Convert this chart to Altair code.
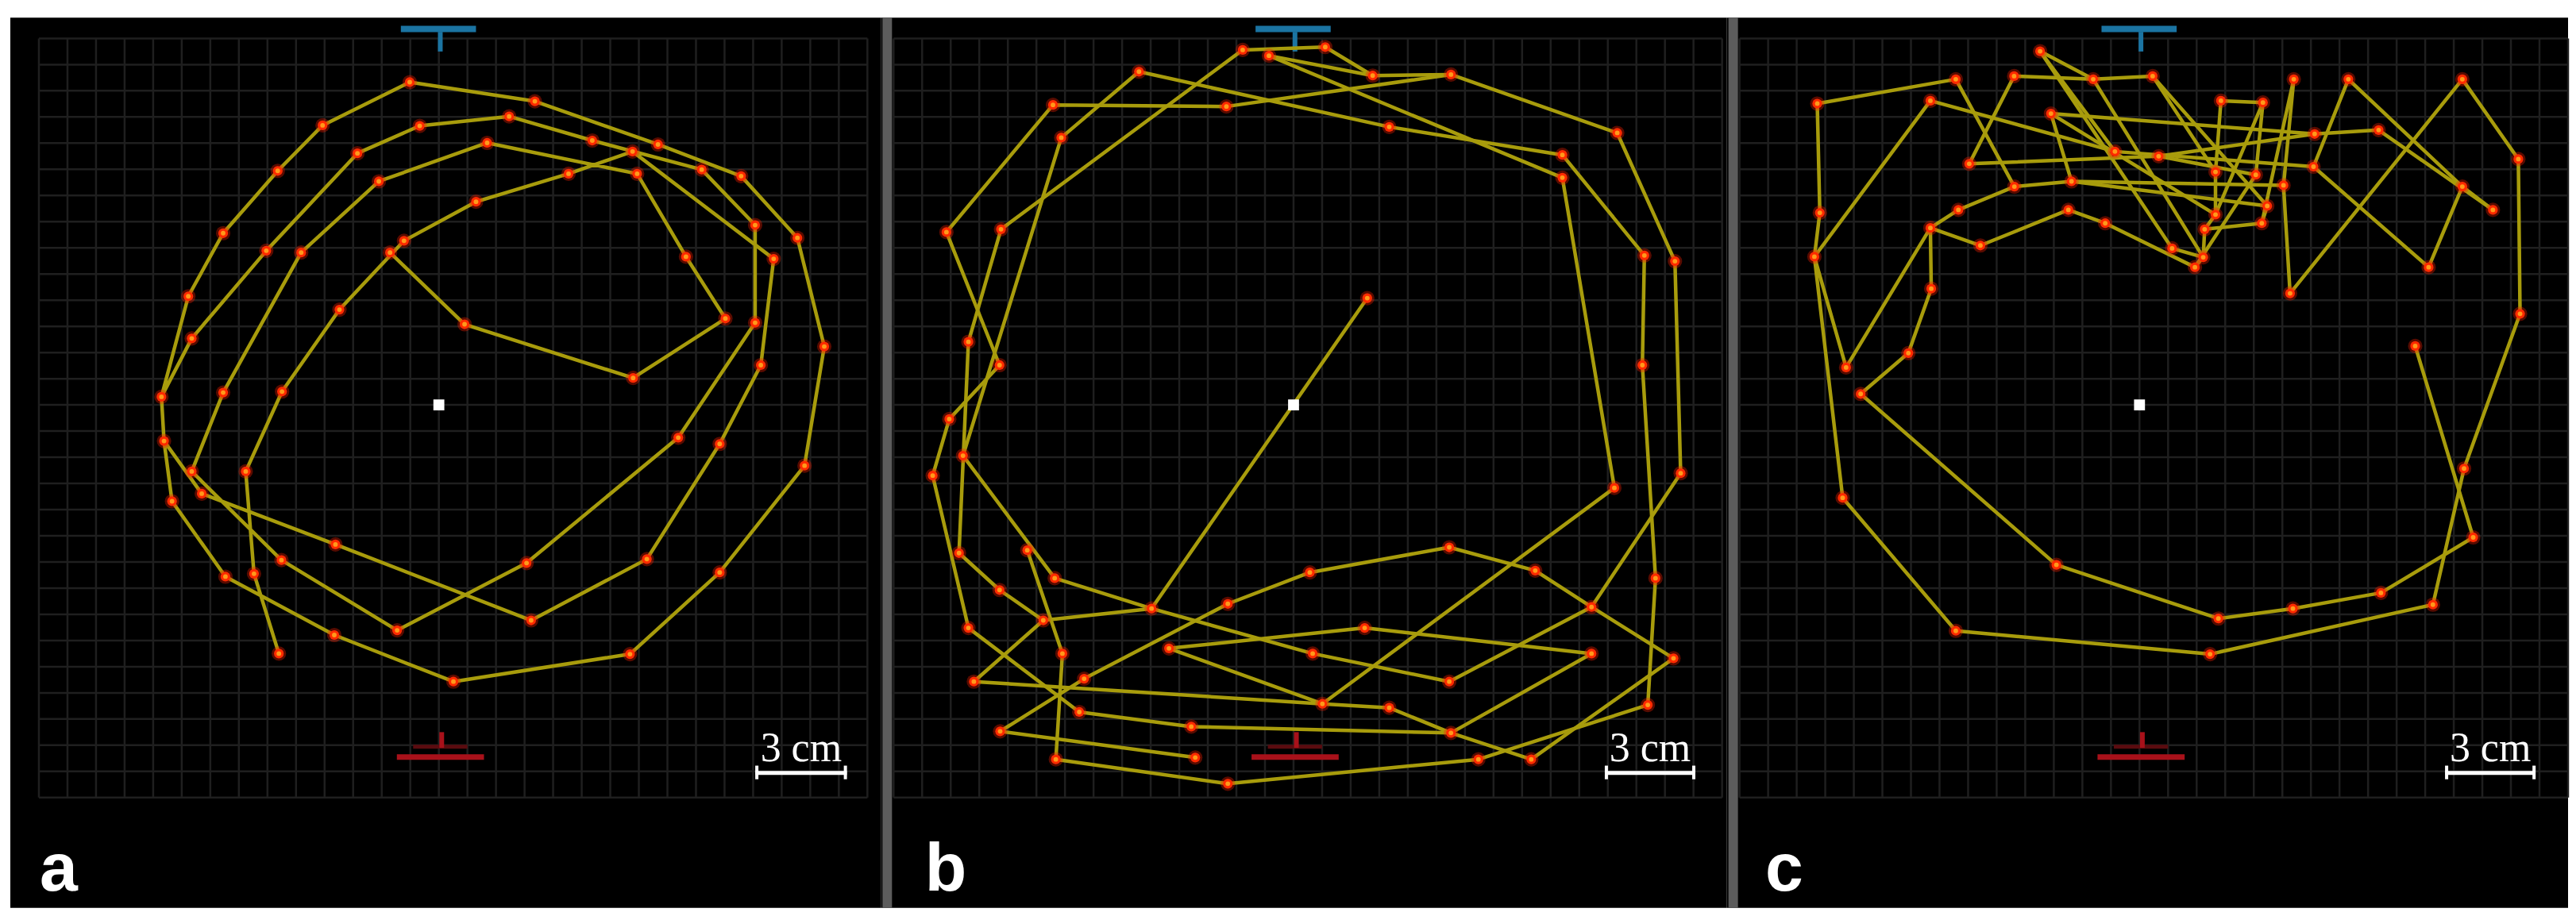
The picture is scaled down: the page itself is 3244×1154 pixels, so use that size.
import altair as alt
import pandas as pd

# ---------------------------------------------------------------------------
# Data: positions in grid-cell units, origin = white centre square, y upward
# ---------------------------------------------------------------------------
A_X = [-1.02, 3.36, 7.67, 2.46, -0.67, -4.07, 5.37, 6.78, 1.69, -2.85, 9.20, 10.58, 6.94, 4.54, -5.64,
       -2.10, 1.30, 11.07, -7.55, 12.55, -1.22, -1.71, -6.04, -4.82, 8.65, 11.72, -8.77, -3.48, 10.03,
       11.07, 0.90, -8.65, 13.49, 11.27, 6.80, -7.55, -5.49, -9.71, -9.62, 8.38, 9.83, 12.80, -8.65,
       -6.76, -8.30, -9.34, -3.62, 3.07, 7.28, -5.51, 9.83, -6.47, -7.47, 3.23, -1.46, -3.66, 6.69,
       -5.60, 0.51]
A_Y = [12.33, 11.60, 9.95, 11.02, 10.66, 10.68, 10.10, 9.68, 10.01, 9.61, 8.99, 8.74, 8.83, 8.83, 8.94,
       8.54, 7.76, 6.87, 6.56, 6.38, 6.27, 5.82, 5.89, 5.82, 5.66, 5.58, 4.15, 3.64, 3.30, 3.14, 3.08,
       2.54, 2.23, 1.52, 1.03, 0.47, 0.51, 0.31, -1.38, -1.25, -1.49, -2.32, -2.54, -2.54, -3.39,
       -3.68, -5.33, -6.04, -5.89, -5.93, -6.40, -6.45, -6.56, -8.23, -8.61, -8.79, -9.52, -9.50,
       -10.57]
A_STROKES = [[22, 31, 35, 29, 25, 13, 9, 16, 24, 36, 43, 50, 55, 48, 40, 30, 18, 11, 7, 4, 5, 10, 23,
              32, 38, 27, 19, 15, 6, 1, 2, 3, 12, 20, 33, 42, 51, 57, 59, 56, 53, 46, 39, 45, 47, 54,
              49, 41, 34, 26, 8, 14, 17, 21, 28, 37, 44, 52, 58],
             [38, 39]]

B_X = [-1.78, -0.86, 1.11, -5.41, 2.77, 5.51, -8.42, -2.35, -8.13, 3.35, 11.33, 9.41, 9.41, -12.15,
       -10.24, 12.28, 13.35, 2.58, -11.38, -10.29, 12.21, -12.05, -11.57, -12.63, 13.55, 11.23,
       -11.71, -9.32, 5.45, 0.57, 8.46, -8.36, 12.67, -10.29, -2.30, -4.97, 10.43, -8.76, -11.38,
       2.49, -4.36, 0.67, -8.09, 10.43, 13.30, -11.19, -7.33, 5.45, 1.01, 3.35, 12.40, -7.50, -3.58,
       -10.27, 5.51, -3.44, -8.32, 6.47, 8.32, -2.30]
B_Y = [13.56, 13.34, 13.67, 12.73, 12.58, 12.62, 11.46, 11.40, 10.21, 10.62, 10.39, 9.55, 8.68, 6.60,
       6.71, 5.71, 5.49, 4.08, 2.41, 1.52, 1.52, -0.54, -1.94, -2.70, -2.61, -3.17, -5.66, -5.55,
       -5.44, -6.40, -6.33, -6.62, -6.62, -7.07, -7.60, -7.78, -7.72, -8.23, -8.52, -8.52, -9.30,
       -9.50, -9.50, -9.50, -9.68, -10.57, -10.46, -10.57, -11.42, -11.57, -11.46, -11.73, -12.29,
       -12.47, -12.53, -13.47, -13.54, -13.54, -13.54, -14.47]
B_STROKES = [[18, 36, 32, 23, 9, 4, 10, 12, 16, 21, 33, 51, 58, 60, 57, 43, 28],
             [36, 38, 34, 27, 19, 15, 1, 3, 5, 6, 11, 17, 25, 37, 48, 42, 36],
             [2, 13, 26, 49, 41, 40, 44, 55, 53, 52, 39, 24, 22, 20, 14, 7, 8, 6],
             [5, 2],
             [54, 47, 35, 30, 29, 31, 37, 45, 59, 55, 50, 49, 46, 38],
             [54, 56]]

C_X = [-3.48, -6.43, -4.39, -1.62, 0.46, 5.40, 7.31, 11.30, -11.28, -7.32, 2.85, 4.32, -3.10, 6.13,
       8.37, -0.86, 0.67, -5.96, 13.26, 6.09, 2.66, 4.07, -4.38, -2.38, 5.04, 11.30, 4.47, -6.34,
       -2.49, -11.19, 12.37, 2.66, -1.20, 4.28, -7.32, 2.28, -5.57, 1.14, 2.23, 1.94, -11.38, 10.12,
       -7.29, 5.27, 13.32, 9.65, -8.09, -10.27, -9.76, 11.36, -10.39, 11.68, -2.91, 8.45, 5.37, 2.76,
       10.27, -6.43, 2.47]
C_Y = [13.51, 12.44, 12.56, 12.44, 12.56, 12.44, 12.44, 12.44, 11.51, 11.62, 11.62, 11.55, 11.13,
       10.35, 10.50, 9.68, 9.50, 9.21, 9.39, 9.10, 8.90, 8.79, 8.34, 8.54, 8.39, 8.34, 7.60, 7.45,
       7.45, 7.34, 7.45, 7.27, 6.94, 6.94, 6.76, 6.71, 6.09, 5.98, 5.64, 5.26, 5.66, 5.26, 4.44, 4.26,
       3.48, 2.25, 1.98, 1.43, 0.42, -2.43, -3.55, -5.06, -6.11, -7.18, -7.78, -8.16, -7.63, -8.63,
       -9.52]
C_STROKES = [[46, 52, 54, 55, 56, 53, 49, 47, 43, 35, 48, 41, 10, 16, 20, 42, 26, 31],
             [2, 9, 30, 41, 51, 58, 59, 57, 50, 45, 19, 8, 44, 25, 6, 34, 27, 24, 23, 2],
             [3, 18, 17, 22, 12, 11, 21, 32, 36, 39, 40, 33, 29, 37, 35, 28, 23],
             [5, 4, 3], [13, 14, 15, 31], [7, 26], [7, 20], [1, 38, 39], [5, 21], [13, 24],
             [1, 4], [1, 16], [4, 39], [5, 27], [13, 32], [24, 25], [36, 34], [40, 22],
             [32, 12], [17, 14]]

PANEL_LABELS = ["a", "b", "c"]
SCALE_TEXT = "3 cm"
GRID_U = list(range(-14, 16))
GRID_V = list(range(-15, 15))
SCALE_BAR_U = [(11.08, 14.28), (10.90, 14.06), (10.70, 13.86)]
LABEL_U = [-13.97, -12.9, -13.1]

# ---------------------------------------------------------------------------
# Layout / style
# ---------------------------------------------------------------------------
PX_U, PX_V = 36.0, 33.0
H = 1122
Y_TOP = 14.79
Y_BOT = Y_TOP - H / PX_V
PANELS = [(-15.0, 1097), (-14.444, 1066), (-14.444, 1060)]

LINE_COL = "#a89c0c"
GRID_COL = "#1f1f1f"


def panel(i, xs, ys, strokes):
    x_left, width = PANELS[i]
    xsc = alt.Scale(domain=[x_left, x_left + width / PX_U], nice=False, zero=False)
    ysc = alt.Scale(domain=[Y_BOT, Y_TOP], nice=False, zero=False)

    def X(f):
        return alt.X(f, type="quantitative", scale=xsc, axis=None)

    def Y(f):
        return alt.Y(f, type="quantitative", scale=ysc, axis=None)

    layers = []
    # grid
    gv = pd.DataFrame({"u": GRID_U, "v0": GRID_V[0], "v1": GRID_V[-1]})
    gh = pd.DataFrame({"v": GRID_V, "u0": GRID_U[0], "u1": GRID_U[-1]})
    layers.append(alt.Chart(gv).mark_rule(color=GRID_COL, strokeWidth=2.5).encode(
        x=X("u"), y=Y("v0"), y2="v1"))
    layers.append(alt.Chart(gh).mark_rule(color=GRID_COL, strokeWidth=2.5).encode(
        y=Y("v"), x=X("u0"), x2="u1"))

    # separator on the left of panels b and c
    if i > 0:
        sep = pd.DataFrame({"u": [x_left + 8 / PX_U], "v0": [Y_BOT], "v1": [Y_TOP]})
        layers.append(alt.Chart(sep).mark_rule(color="#5c5c5c", strokeWidth=12).encode(
            x=X("u"), y=Y("v0"), y2="v1"))

    # top (blue) and bottom (red) markers
    icons = pd.DataFrame({
        "u0": [-1.33, 0.05, -0.9, -1.47, 0.1],
        "u1": [1.30, 0.05, 1.0, 1.58, 0.1],
        "v0": [14.36, 14.25, -13.06, -13.45, -12.5],
        "v1": [14.36, 13.5, -13.06, -13.45, -13.1],
        "c": ["#1b74a2", "#1b74a2", "#5a0b0f", "#a8111a", "#a8111a"],
        "w": [8, 6, 5, 7, 6],
    })
    layers.append(alt.Chart(icons).mark_rule().encode(
        x=X("u0"), x2="u1", y=Y("v0"), y2="v1",
        color=alt.Color("c:N", scale=None), strokeWidth=alt.StrokeWidth("w:Q", scale=None)))

    # trajectory
    rows = []
    for s_i, stroke in enumerate(strokes):
        for o, pid in enumerate(stroke):
            rows.append({"s": s_i, "o": o, "u": xs[pid - 1], "v": ys[pid - 1]})
    path = pd.DataFrame(rows)
    layers.append(alt.Chart(path).mark_line(color=LINE_COL, strokeWidth=4.5, strokeJoin="round",
                                            strokeCap="round").encode(
        x=X("u"), y=Y("v"), detail="s:N", order="o:Q"))

    pts = pd.DataFrame({"u": xs, "v": ys})
    layers.append(alt.Chart(pts).mark_circle(color="#ff2000", opacity=0.35, size=330).encode(
        x=X("u"), y=Y("v")))
    layers.append(alt.Chart(pts).mark_circle(color="#ff2a00", opacity=1, size=150).encode(
        x=X("u"), y=Y("v")))
    layers.append(alt.Chart(pts).mark_circle(color="#ff9a1a", opacity=1, size=34).encode(
        x=X("u"), y=Y("v")))

    # centre square
    ctr = pd.DataFrame({"u": [0.0], "v": [0.0]})
    layers.append(alt.Chart(ctr).mark_square(color="white", opacity=1, size=190).encode(
        x=X("u"), y=Y("v")))

    # scale bar
    b0, b1 = SCALE_BAR_U[i]
    bar = pd.DataFrame({"u0": [b0], "u1": [b1], "v": [-14.06]})
    layers.append(alt.Chart(bar).mark_rule(color="white", strokeWidth=5).encode(
        x=X("u0"), x2="u1", y=Y("v")))
    ends = pd.DataFrame({"u": [b0 + 0.05, b1 - 0.05], "v0": [-13.78, -13.78], "v1": [-14.3, -14.3]})
    layers.append(alt.Chart(ends).mark_rule(color="white", strokeWidth=4).encode(
        x=X("u"), y=Y("v0"), y2="v1"))
    txt = pd.DataFrame({"u": [(b0 + b1) / 2], "v": [-13.62], "t": [SCALE_TEXT]})
    layers.append(alt.Chart(txt).mark_text(color="white", font="Liberation Serif", fontSize=52,
                                           align="center", baseline="alphabetic").encode(
        x=X("u"), y=Y("v"), text="t:N"))

    # panel letter
    lab = pd.DataFrame({"u": [LABEL_U[i]], "v": [-18.55], "t": [PANEL_LABELS[i]]})
    layers.append(alt.Chart(lab).mark_text(color="white", font="Liberation Sans", fontSize=86,
                                           fontWeight="bold", align="left",
                                           baseline="alphabetic").encode(
        x=X("u"), y=Y("v"), text="t:N"))

    return alt.layer(*layers).properties(width=width, height=H)


pa = panel(0, A_X, A_Y, A_STROKES)
pb = panel(1, B_X, B_Y, B_STROKES)
pc = panel(2, C_X, C_Y, C_STROKES)

chart = alt.hconcat(pa, pb, pc, spacing=0).properties(
    padding={"left": 5, "top": 8, "right": 0, "bottom": 0},
    background="white",
).configure_view(fill="black", stroke="transparent", strokeWidth=0).configure_concat(spacing=0)

chart.save("out.html", embed_options={"renderer": "svg", "actions": False})
